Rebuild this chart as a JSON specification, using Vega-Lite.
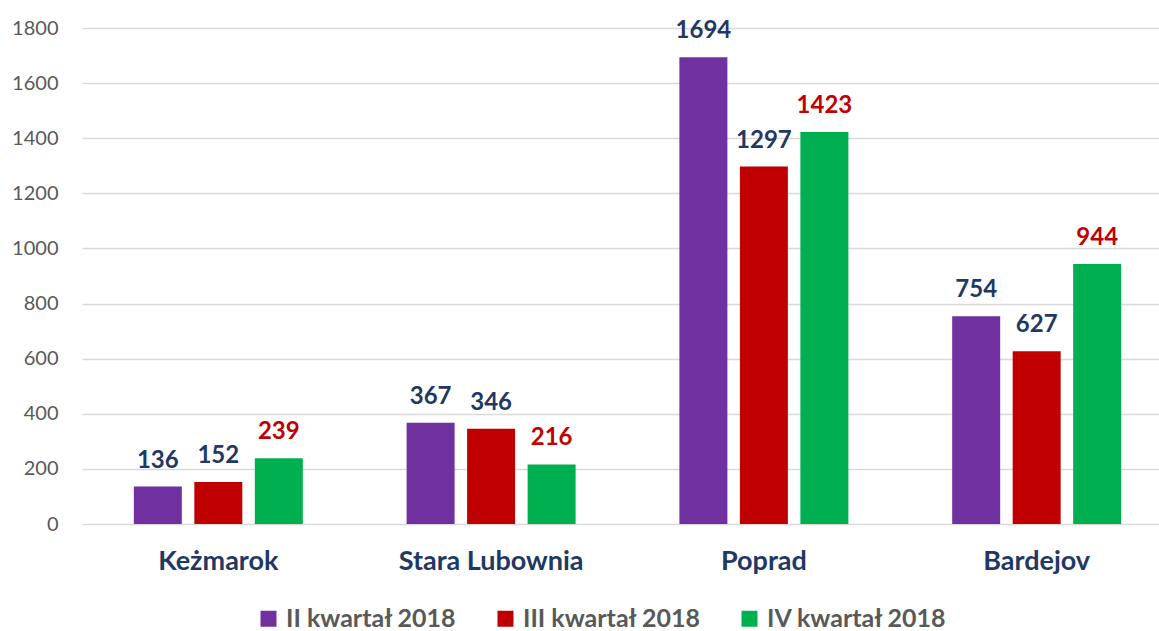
{
  "$schema": "https://vega.github.io/schema/vega-lite/v6.json",
  "width": 1077,
  "height": 496,
  "autosize": {"type": "none"},
  "padding": {"left": 82, "top": 28, "right": 0, "bottom": 107},
  "background": "white",
  "config": {"view": {"stroke": null}, "font": "Lato"},
  "data": {
    "values": [
      {"city": "Keżmarok", "q": "II kwartał 2018", "v": 136},
      {"city": "Keżmarok", "q": "III kwartał 2018", "v": 152},
      {"city": "Keżmarok", "q": "IV kwartał 2018", "v": 239},
      {"city": "Stara Lubownia", "q": "II kwartał 2018", "v": 367},
      {"city": "Stara Lubownia", "q": "III kwartał 2018", "v": 346},
      {"city": "Stara Lubownia", "q": "IV kwartał 2018", "v": 216},
      {"city": "Poprad", "q": "II kwartał 2018", "v": 1694},
      {"city": "Poprad", "q": "III kwartał 2018", "v": 1297},
      {"city": "Poprad", "q": "IV kwartał 2018", "v": 1423},
      {"city": "Bardejov", "q": "II kwartał 2018", "v": 754},
      {"city": "Bardejov", "q": "III kwartał 2018", "v": 627},
      {"city": "Bardejov", "q": "IV kwartał 2018", "v": 944}
    ]
  },
  "encoding": {
    "x": {
      "field": "city", "type": "nominal", "sort": null,
      "scale": {"range": [0, 1091], "paddingInner": 0.3805, "paddingOuter": 0.19},
      "axis": {"title": null, "domain": false, "ticks": false, "labelAngle": 0, "labelLimit": 400,
        "labelFont": "Lato", "labelFontSize": 27, "labelFontWeight": "bold",
        "labelColor": "#1F3864", "labelPadding": 24}
    },
    "xOffset": {
      "field": "q", "type": "nominal", "sort": null,
      "scale": {"paddingInner": 0.2066, "paddingOuter": 0}
    },
    "y": {
      "field": "v", "type": "quantitative",
      "scale": {"domain": [0, 1800]},
      "axis": {"title": null, "domain": false, "ticks": false, "format": "d", "values": [0,200,400,600,800,1000,1200,1400,1600,1800],
        "labelFont": "Lato", "labelFontSize": 20, "labelColor": "#595959", "labelPadding": 24,
        "gridColor": "#D9D9D9", "gridWidth": 1.5}
    }
  },
  "layer": [
    {
      "mark": {"type": "bar"},
      "encoding": {
        "color": {
          "field": "q", "type": "nominal", "sort": null,
          "scale": {"domain": ["II kwartał 2018", "III kwartał 2018", "IV kwartał 2018"], "range": ["#7030A0", "#C00000", "#00B050"]},
          "legend": {"title": null, "orient": "none", "direction": "horizontal", "legendX": 174, "legendY": 578,
            "symbolType": "square", "symbolSize": 256, "symbolStrokeWidth": 0, "labelFont": "Lato", "labelFontSize": 25,
            "labelFontWeight": "bold", "labelColor": "#595959", "labelOffset": 5, "columnPadding": 36, "labelLimit": 300}
        }
      }
    },
    {
      "mark": {"type": "text", "baseline": "alphabetic", "dy": -19, "fontSize": 24, "fontWeight": "bold", "font": "Lato"},
      "encoding": {
        "text": {"field": "v", "type": "quantitative"},
        "color": {"condition": {"test": "datum.q === 'IV kwartał 2018'", "value": "#C00000"}, "value": "#1F3864"}
      }
    }
  ]
}
